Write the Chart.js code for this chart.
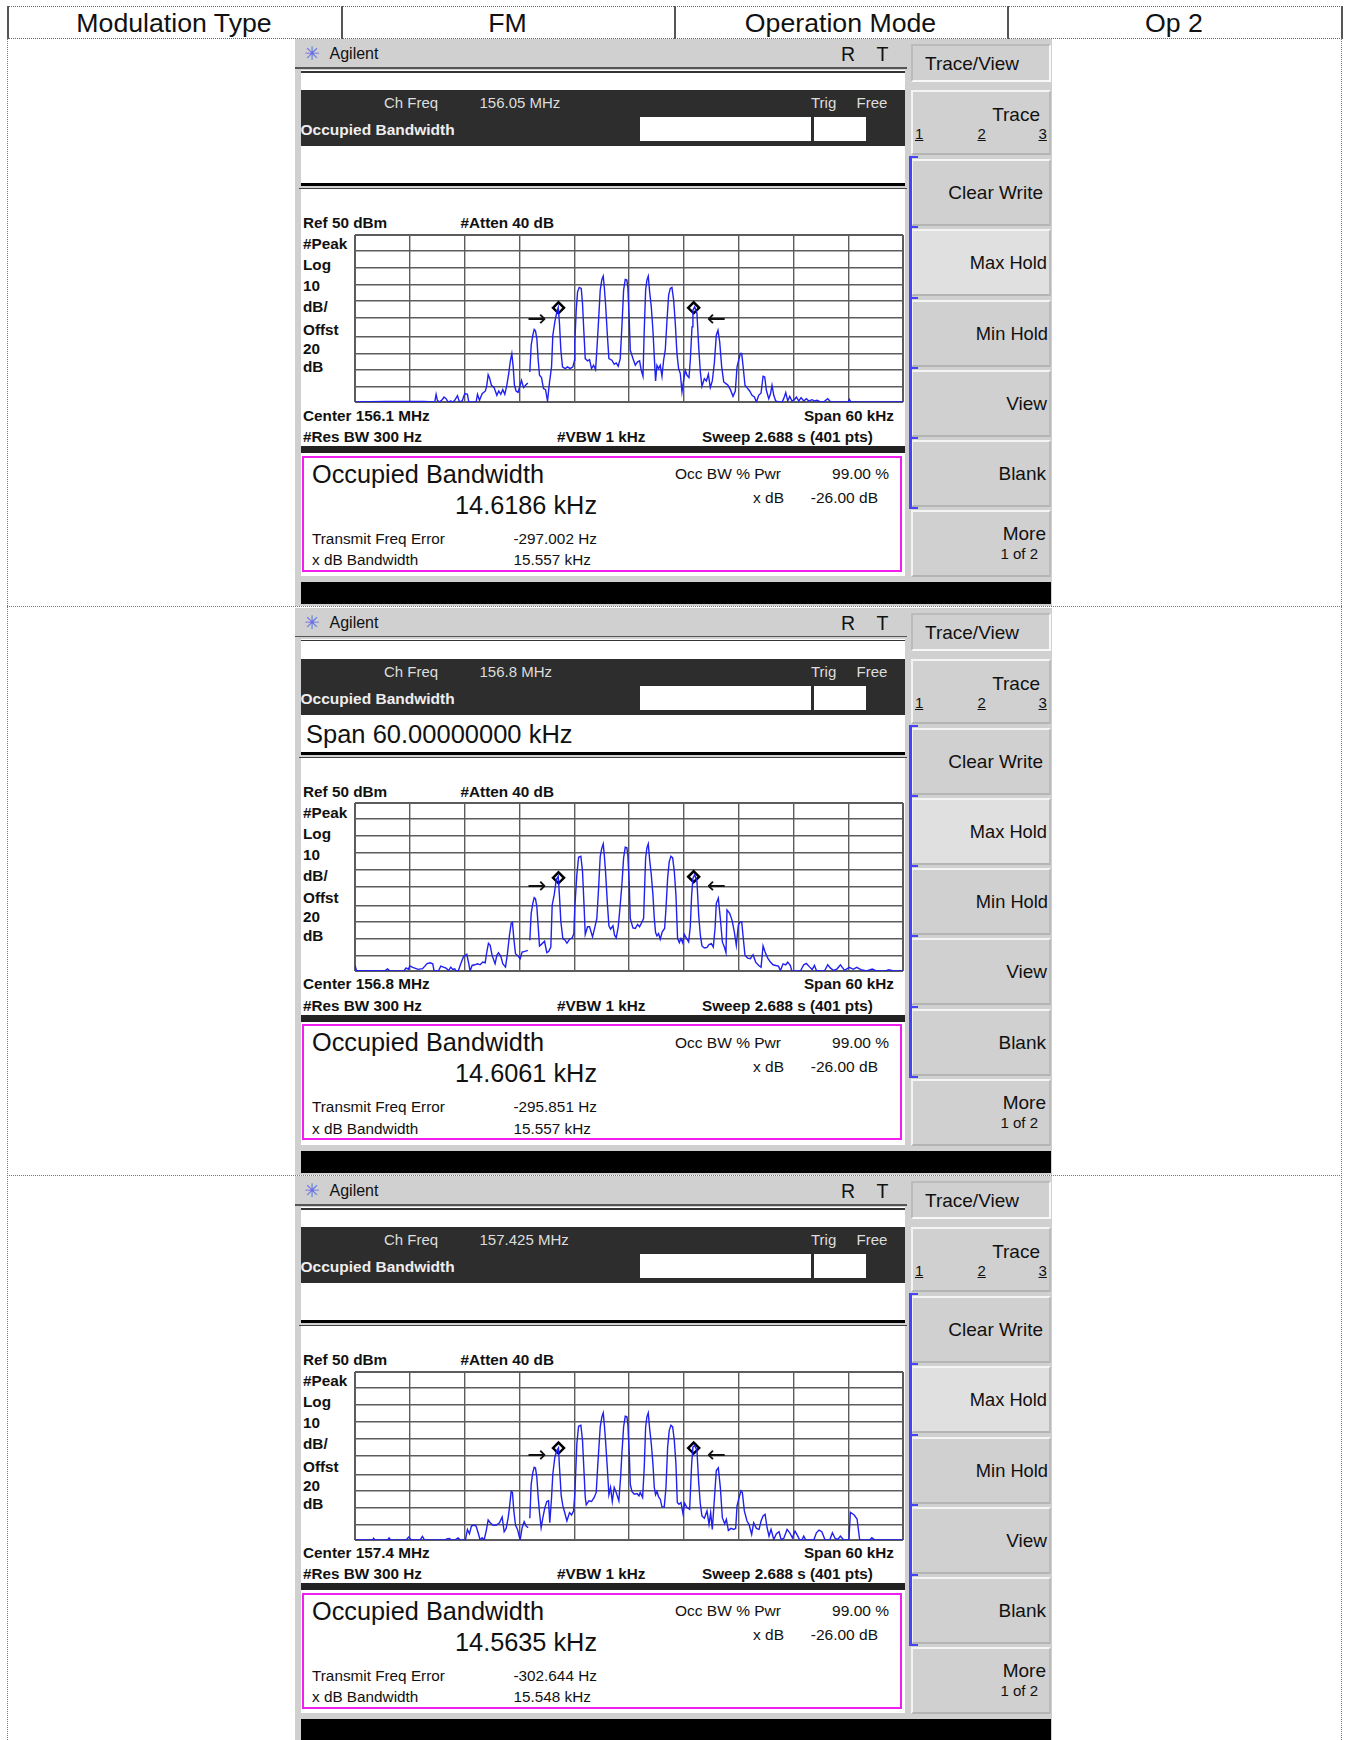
<!DOCTYPE html>
<html>
<head>
<meta charset="utf-8">
<title>Occupied Bandwidth</title>
<script src="https://cdn.jsdelivr.net/npm/chart.js@4/dist/chart.umd.min.js"></script>
<style>
    html, body { margin: 0; padding: 0; background: #fff; }
    body { position: relative; width: 1348px; height: 1740px; overflow: hidden; font-family: "Liberation Sans", Arial, sans-serif; color: #111; }
    .box { position: absolute; }
    .t { position: absolute; white-space: nowrap; height: 30px; line-height: 30px; }
    .b { font-weight: bold; }
    .key { position: absolute; left: 911px; width: 136px; background: #d0d0d0; border: 2px solid; border-color: #f4f4f4 #bbb #b4b4b4 #f4f4f4; }
    canvas { position: absolute; }
</style>
</head>
<body>
<script>
// Header row
const headerLabels = ['Modulation Type', 'FM', 'Operation Mode', 'Op 2'];

// Readouts of the three screens
const chFreqLabels = ['156.05 MHz', '156.8 MHz', '157.425 MHz'];
const centerLabels = ['Center 156.1 MHz', 'Center 156.8 MHz', 'Center 157.4 MHz'];
const activeLabels = ['', 'Span 60.00000000 kHz', ''];
const occBwLabels = ['14.6186 kHz', '14.6061 kHz', '14.5635 kHz'];
const freqErrorLabels = ['-297.002 Hz', '-295.851 Hz', '-302.644 Hz'];
const xdbLabels = ['15.557 kHz', '15.557 kHz', '15.548 kHz'];
const softKeys = ['Clear Write', 'Max Hold', 'Min Hold', 'View', 'Blank'];

// Axis: span 60 kHz around center, ref 50 dBm, 10 dB/div
const xTicksKhz = [-30, -24, -18, -12, -6, 0, 6, 12, 18, 24, 30];
const yGridDb = [50, 40.4, 30.4, 20.4, 10.4, 0.4, -11, -21, -31, -41, -50];

// Traces, offset from center in kHz and level in dBm
const khz1 = [-30, -26.6, -25.4, -22.5, -21.27, -21.12, -20.98, -20.76, -20.46, -20.25, -20.03, -19.81, -19.52, -19.30, -19.08, -18.78, -18.57, -18.27, -17.98, -17.69, -17.54, -17.03, -16.74, -16.59, -16.37, -16.08, -15.72, -15.57, -15.42, -15.28, -15.06, -14.77, -14.47, -14.26, -14.04, -13.82, -13.60, -13.38, -13.17, -12.98, -12.83, -12.68, -12.54, -12.36, -12.14, -11.92, -11.77, -11.55, -11.33, -11.08, -11.0, -10.86, -10.71, -10.53, -10.38, -10.24, -10.09, -9.94, -9.80, -9.58, -9.36, -9.14, -8.92, -8.70, -8.48, -8.34, -8.12, -7.90, -7.75, -7.61, -7.46, -7.28, -6.99, -6.73, -6.44, -6.15, -5.96, -5.93, -5.78, -5.63, -5.45, -5.23, -5.09, -4.94, -4.79, -4.54, -4.32, -4.10, -3.88, -3.66, -3.52, -3.33, -3.15, -2.97, -2.82, -2.71, -2.57, -2.38, -2.20, -1.87, -1.62, -1.40, -1.18, -0.96, -0.78, -0.59, -0.41, -0.23, -0.12, 0.03, 0.14, 0.43, 0.69, 0.94, 1.16, 1.34, 1.53, 1.67, 1.82, 1.96, 2.11, 2.26, 2.44, 2.62, 2.77, 2.91, 3.06, 3.24, 3.42, 3.61, 3.79, 3.97, 4.16, 4.34, 4.52, 4.70, 4.89, 5.07, 5.25, 5.43, 5.62, 5.80, 5.98, 6.16, 6.35, 6.57, 6.71, 6.90, 7.00, 7.19, 7.44, 7.63, 7.81, 7.99, 8.25, 8.47, 8.69, 8.90, 9.12, 9.34, 9.56, 9.74, 9.93, 10.15, 10.37, 10.62, 10.84, 11.10, 11.39, 11.64, 11.83, 12.01, 12.19, 12.34, 12.48, 12.70, 12.92, 13.21, 13.47, 13.73, 13.95, 14.20, 14.46, 14.68, 14.86, 15.04, 15.30, 15.48, 15.66, 15.85, 16.06, 16.39, 16.76, 16.94, 17.16, 17.38, 17.60, 17.85, 18.11, 18.33, 18.59, 18.84, 19.13, 19.42, 19.68, 20.05, 20.30, 20.59, 20.96, 21.40, 21.76, 22.06, 22.49, 23.15, 24.0, 24.12, 24.3, 30];
const db1 = [-50, -49.6, -49.7, -49.6, -50, -45.4, -49, -50, -48.6, -47, -48, -50, -49.4, -50, -49, -46.2, -50, -49.4, -45, -45.4, -50, -50, -50, -45.4, -49, -45, -43.4, -40, -33.6, -35.4, -40, -41.4, -46, -43.4, -45.4, -42.6, -45.4, -40, -33, -25, -21, -29, -40, -43.4, -44.2, -40, -37, -41.4, -40, -38.6, null, -32, -16, -10, -6.6, -7.4, -12, -25, -34, -35.4, -42, -42.6, -49.4, -38, -29, -10, -2, 4, 6.6, -3, -19, -29, -30, -29, -30, -29, -25, -14, 5, 16, 18.6, 18, 9, -8, -24, -25.4, -24.6, -30, -28, -30.6, -19, -1, 17, 23.4, 25.4, 19, 9, -9, -24, -25, -27.4, -26.6, -28.6, -24, -5, 17, 23.4, 23, 18, -1, -19, -24, -28, -26, -25.4, -31, -34.6, -7, 17, 23, 25.4, 16, 7, -7, -23, -37.4, -28, -30, -28, -34.6, -25, -19, -1, 14, 18, 18.6, 11, -3, -21, -30, -33, -44, -37, -31, -34, -35.4, -25, -5, 5, 7, 3, -17, -32, -40.6, -36, -37.4, -33.4, -41.4, -37.4, -27, -10, -7, -14, -29, -38, -39, -40, -42.6, -46.6, -43.4, -29, -25, -21, -21, -28, -40, -41.4, -43.4, -46, -47, -50, -46, -44.6, -34.6, -35, -43, -48, -45.4, -40, -46, -49.4, -50, -50, -48, -44.4, -49.4, -46.6, -49.4, -48.6, -47, -49.4, -47.4, -49.4, -48, -49.4, -48.6, -49.4, -49, -50, -49.6, -48, -49.8, -50, -50, -50, -48.4, -50, -50];

const khz2 = [-30, -29.84, -26.76, -26.43, -26.19, -24.65, -24.4, -24.16, -24, -23.68, -23.1, -22.6, -22.1, -21.78, -21.49, -21.34, -20.87, -20.61, -20.32, -20.03, -19.74, -19.52, -19.30, -19.08, -18.93, -18.67, -18.42, -18.13, -17.76, -17.54, -17.40, -17.18, -16.89, -16.59, -16.30, -16.01, -15.75, -15.57, -15.39, -15.20, -14.99, -14.66, -14.47, -14.29, -14.04, -13.82, -13.52, -13.31, -13.09, -12.90, -12.76, -12.61, -12.43, -12.21, -11.92, -11.70, -11.41, -11.08, -11.0, -10.86, -10.71, -10.53, -10.38, -10.24, -10.09, -9.94, -9.80, -9.51, -9.25, -9.00, -8.78, -8.56, -8.41, -8.19, -7.97, -7.75, -7.61, -7.46, -7.24, -6.99, -6.80, -6.51, -6.22, -6.04, -5.93, -5.71, -5.52, -5.27, -5.09, -4.94, -4.79, -4.54, -4.32, -3.99, -3.73, -3.52, -3.33, -3.15, -2.97, -2.82, -2.71, -2.57, -2.38, -2.20, -2.02, -1.76, -1.58, -1.40, -1.18, -0.96, -0.78, -0.59, -0.41, -0.23, -0.12, 0.03, 0.14, 0.43, 0.69, 0.94, 1.16, 1.34, 1.60, 1.67, 1.82, 1.96, 2.11, 2.26, 2.44, 2.62, 2.77, 2.91, 3.06, 3.24, 3.42, 3.64, 3.90, 4.05, 4.23, 4.41, 4.59, 4.78, 4.96, 5.14, 5.32, 5.51, 5.69, 5.87, 6.06, 6.27, 6.53, 6.71, 6.86, 7.00, 7.19, 7.44, 7.63, 7.81, 7.99, 8.25, 8.54, 8.76, 9.01, 9.23, 9.42, 9.56, 9.78, 10.00, 10.22, 10.44, 10.62, 10.73, 11.02, 11.28, 11.53, 11.75, 11.97, 12.12, 12.34, 12.48, 12.70, 13.00, 13.29, 13.58, 13.87, 14.20, 14.46, 14.68, 14.90, 15.19, 15.48, 15.77, 16.06, 16.36, 16.58, 16.87, 17.16, 17.38, 17.67, 17.82, 18.77, 19.13, 19.42, 19.79, 20.05, 20.30, 20.52, 20.96, 21.40, 21.76, 22.06, 22.42, 22.79, 23.15, 23.6, 24.12, 24.56, 24.93, 25.38, 26.03, 26.63, 27.08, 28.05, 28.46, 28.98, 30];
const db2 = [-46.6, -49.6, -50, -48.8, -50, -50, -48.2, -49, -47, -47.8, -49, -48.6, -45.6, -45.1, -45.7, -50, -50, -47.1, -47.7, -48.3, -49.7, -47.7, -49.1, -48.7, -50, -49.7, -45.7, -41.7, -40.1, -45.7, -50, -46.7, -46.3, -45.7, -46.3, -44.7, -45.1, -38.7, -33.5, -34.7, -40.7, -45.7, -40.7, -39.1, -41.1, -45.7, -47.7, -39.7, -28.7, -21.7, -21.1, -30.7, -39.7, -40.7, -42.7, -38.7, -38.3, -37.7, null, -31.7, -15.7, -9.7, -6.3, -7.1, -11.7, -23.7, -35.1, -33.7, -32.3, -39.1, -38.3, -35.7, -10.7, -4.7, 4.3, 6.3, -5.7, -20.7, -30.7, -31.7, -33.5, -31.1, -30.3, -27.7, -11.7, 7.3, 17.7, 18.3, 9.3, -8.7, -28.3, -23.7, -23.7, -29.7, -23.7, -18.7, -0.7, 18.3, 23.3, 25.7, 19.3, 9.3, -8.7, -23.1, -25.1, -23.1, -28.7, -30.3, -23.7, -10.7, 1.3, 17.3, 23.7, 23.3, 18.3, 1.3, -18.7, -24.3, -24.7, -22.3, -23.7, -21.7, -18.7, -6.7, 17.3, 23.3, 25.7, 16.3, 7.3, -4.7, -18.7, -27.1, -29.1, -27.7, -31.1, -26.7, -24.7, -12.7, 5.3, 15.3, 18.3, 17.3, 9.3, -4.7, -30.7, -33.1, -30.7, -33.1, -28.3, -30.3, -32.7, -23.7, -4.7, 5.3, 7.3, 3.3, -16.7, -28.7, -35.1, -36.3, -35.9, -34.3, -33.7, -35.7, -24.7, -9.7, -6.7, -18.7, -32.7, -35.7, -39.1, -13.7, -15.7, -19.7, -26.7, -34.7, -22.7, -21.1, -20.7, -28.7, -40.7, -42.3, -42.7, -40.3, -44.7, -46.7, -47.7, -35.1, -38.7, -42.3, -44.7, -46.3, -46.7, -47.1, -49.7, -45.7, -46.3, -44.7, -46.7, -50, -50, -46.3, -45.5, -47.7, -49.1, -46.7, -49.7, -50, -50, -46.3, -48.3, -49.7, -48.7, -46.3, -49.6, -47.8, -49, -47.8, -49.2, -50, -48.8, -50, -50, -49.2, -50, -50];

const khz3 = [-30, -28.05, -27.97, -27.8, -26.43, -26.27, -26.1, -24.4, -24.12, -23.84, -22.87, -22.62, -22.38, -21.78, -20.17, -19.95, -19.66, -19.44, -19.08, -18.71, -18.49, -17.91, -17.69, -17.47, -17.25, -16.96, -16.74, -16.52, -16.30, -16.08, -15.86, -15.64, -15.42, -15.20, -14.91, -14.55, -14.18, -13.89, -13.67, -13.45, -13.23, -13.09, -12.90, -12.76, -12.61, -12.43, -12.21, -11.92, -11.70, -11.48, -11.26, -11.04, -10.95, -10.86, -10.71, -10.53, -10.38, -10.24, -10.09, -9.94, -9.80, -9.62, -9.43, -9.21, -9.00, -8.81, -8.67, -8.48, -8.34, -8.12, -7.90, -7.72, -7.61, -7.42, -7.24, -6.99, -6.80, -6.51, -6.29, -6.07, -5.93, -5.85, -5.71, -5.52, -5.27, -5.09, -4.94, -4.79, -4.68, -4.39, -4.10, -3.81, -3.59, -3.41, -3.15, -2.97, -2.82, -2.71, -2.57, -2.38, -2.20, -2.02, -1.83, -1.62, -1.40, -1.11, -0.92, -0.78, -0.59, -0.41, -0.23, -0.12, 0.03, 0.14, 0.32, 0.57, 0.87, 1.09, 1.23, 1.49, 1.67, 1.82, 1.96, 2.11, 2.26, 2.44, 2.62, 2.77, 2.91, 3.06, 3.24, 3.42, 3.61, 3.86, 4.05, 4.23, 4.41, 4.59, 4.78, 4.96, 5.14, 5.29, 5.47, 5.69, 5.91, 6.09, 6.35, 6.64, 6.86, 7.00, 7.19, 7.44, 7.63, 7.81, 7.99, 8.25, 8.54, 8.76, 8.94, 9.12, 9.31, 9.56, 9.78, 10.00, 10.22, 10.48, 10.66, 10.88, 11.17, 11.46, 11.68, 11.83, 12.05, 12.27, 12.41, 12.63, 12.92, 13.14, 13.43, 13.65, 13.95, 14.24, 14.46, 14.68, 14.90, 15.12, 15.33, 15.55, 15.85, 16.14, 16.43, 16.65, 16.94, 17.31, 17.60, 17.89, 18.18, 18.48, 18.69, 18.95, 19.13, 19.35, 20.23, 20.52, 20.81, 21.11, 21.47, 21.98, 22.27, 22.57, 22.86, 23.15, 23.51, 24.08, 24.24, 24.65, 24.97, 25.26, 26.35, 26.59, 26.92, 30];
const db3 = [-50, -50, -49, -50, -50, -48.8, -50, -50, -48.2, -50, -50, -47.8, -50, -50, -50, -49.3, -49.1, -50, -50, -48.7, -50, -50, -43.7, -46.3, -41.7, -41.1, -41.7, -45.7, -50, -48.7, -50, -44.7, -38.1, -39.7, -41.1, -41.3, -39.7, -36.3, -45.1, -43.1, -36.7, -30.7, -21.1, -21.7, -32.7, -41.1, -43.7, -50, -42.7, -39.1, -41.7, -42.7, null, -37.1, -16.7, -9.7, -6.7, -7.1, -12.7, -24.7, -33.7, -42.7, -36.7, -30.7, -27.1, -26.7, -39.7, -24.7, -10.7, -0.7, 3.3, 4.9, -6.7, -23.7, -29.7, -34.7, -38.7, -33.7, -35.1, -32.7, -22.7, -11.7, 7.3, 17.7, 18.3, 9.3, -7.7, -24.7, -29.1, -26.7, -27.1, -24.7, -21.7, -4.7, 17.3, 23.3, 25.7, 19.3, 9.3, -6.7, -23.1, -18.7, -27.1, -18.7, -21.7, -26.7, -12.7, 1.3, 17.3, 23.7, 23.3, 18.3, 1.3, -16.7, -21.1, -22.7, -22.3, -23.7, -21.7, -24.7, -6.7, 17.3, 23.3, 25.7, 16.3, 7.3, -4.7, -18.7, -23.1, -21.1, -24.3, -25.7, -30.3, -30.3, -18.7, 5.3, 15.3, 18.3, 17.3, 9.3, -4.7, -27.7, -28.7, -27.7, -34.3, -28.1, -30.7, -31.7, -4.7, 5.3, 6.3, 3.3, -15.7, -28.7, -35.7, -37.1, -32.7, -40.7, -33.7, -43.7, -28.7, -8.7, -7.1, -18.7, -36.7, -40.3, -37.7, -44.3, -43.1, -43.7, -43.1, -29.7, -24.7, -20.7, -21.7, -32.7, -38.7, -40.7, -46.7, -39.7, -43.1, -43.7, -38.7, -35.7, -34.7, -42.7, -47.7, -43.7, -49.7, -46.3, -45.1, -49.7, -49.1, -43.7, -45.7, -48.7, -44.7, -47.7, -50, -49.7, -47.7, -50, -50, -45.7, -44.1, -45.1, -50, -50, -45.7, -49.1, -49.7, -47.7, -50, -50, -33.5, -35.1, -37.5, -50, -50, -48.6, -50, -50];

// Occupied bandwidth markers and x dB arrows
const markerKhz = [-7.72, 7.08];
const markerDb = [[6.4, 6.4], [5.5, 6.1], [4.7, 4.7]];
const arrowKhz = [-10.09, 9.56];
const arrowDb = [-1, -0.2, 0.1];

const traces = [[khz1, db1], [khz2, db2], [khz3, db3]];
const panelTops = [0, 568.5, 1137];
const plotTops = [227, 795, 1364];
const plotHeights = [183, 184, 184];

function box(parent, x, y, w, h, color) {
    const el = document.createElement('div');
    el.className = 'box';
    el.style.cssText = `left:${x}px;top:${y}px;width:${w}px;height:${h}px;background:${color}`;
    parent.appendChild(el);
    return el;
}

// x is the left edge, or the right edge if opts.right is set; cy is the vertical center
function text(parent, str, x, cy, size, opts = {}) {
    const el = document.createElement('div');
    el.className = 't' + (opts.bold ? ' b' : '');
    el.textContent = str;
    el.style.top = (cy - 15) + 'px';
    el.style.fontSize = size + 'px';
    if (opts.right) el.style.right = (1348 - x) + 'px';
    else el.style.left = x + 'px';
    if (opts.color) el.style.color = opts.color;
    if (opts.underline) el.style.textDecoration = 'underline';
    if (opts.font) el.style.fontFamily = opts.font;
    parent.appendChild(el);
    return el;
}

function drawHeader() {
    const edges = [7, 341, 674, 1007, 1341];
    headerLabels.forEach((label, i) => {
        const el = text(document.body, label, edges[i], 23, 26.7);
        el.style.width = (edges[i + 1] - edges[i]) + 'px';
        el.style.textAlign = 'center';
    });
    edges.forEach(x => box(document.body, x, 6, 1.5, 33, '#555'));
    const top = box(document.body, 7, 6, 1335, 0, 'transparent');
    top.style.borderTop = '1px dotted #666';
    const bottom = box(document.body, 7, 38, 1335, 0, 'transparent');
    bottom.style.borderTop = '1px dotted #666';
    [7, 1341].forEach(x => {
        const line = box(document.body, x, 38, 0, 1702, 'transparent');
        line.style.borderLeft = '1px dotted #777';
    });
    [606, 1175].forEach(y => {
        const line = box(document.body, 7, y, 1335, 0, 'transparent');
        line.style.borderTop = '1px dotted #777';
    });
}

function drawPanel(i) {
    const p = document.createElement('div');
    p.className = 'box';
    p.style.cssText = `left:0;top:${panelTops[i]}px;width:1348px;height:606px`;
    document.body.appendChild(p);

    // screen frame
    box(p, 295, 39, 757, 567, '#d0d0d0');
    box(p, 295, 67, 612, 1.5, '#555');
    box(p, 301, 70, 604, 376, '#fff');
    box(p, 301, 71, 604, 1.5, '#333');
    box(p, 301, 90, 604, 56, '#2d2d2d');
    box(p, 640, 117, 171, 24, '#fff');
    box(p, 814, 117, 52, 24, '#fff');
    box(p, 301, 183, 604, 3, '#000');
    box(p, 299, 186, 608, 2.5, '#d0d0d0');
    box(p, 299, 188, 608, 1.2, '#444');
    box(p, 301, 446, 604, 7, '#222');
    box(p, 301, 453, 604, 123, '#fff');
    const frame = box(p, 302, 455.5, 596, 112, '#fff');
    frame.style.border = '2.5px solid #f01ff0';
    box(p, 301, 582, 750, 22, '#000');

    // title bar
    text(p, '✳', 304, 53, 19, { color: '#6a6ae8', font: '"DejaVu Sans"' });
    text(p, 'Agilent', 329.5, 54, 16);
    text(p, 'R', 841, 54, 19.5);
    text(p, 'T', 876.5, 54, 19.5);

    // measurement band
    text(p, 'Ch Freq', 384, 103, 15, { color: '#ddd' });
    text(p, chFreqLabels[i], 479.5, 103, 15, { color: '#ddd' });
    text(p, 'Trig', 811, 103, 15, { color: '#ddd' });
    text(p, 'Free', 856.5, 103, 15, { color: '#ddd' });
    text(p, 'Occupied Bandwidth', 300.5, 130, 15.5, { color: '#eee', bold: true });
    if (activeLabels[i]) text(p, activeLabels[i], 306, 165, 25.5);

    // plot annotation
    text(p, 'Ref 50 dBm', 303, 223, 15.3, { bold: true });
    text(p, '#Atten 40 dB', 460.5, 223, 15.3, { bold: true });
    [['#Peak', 244], ['Log', 265], ['10', 286], ['dB/', 307], ['Offst', 329.5], ['20', 348.5], ['dB', 367]].forEach(([s, y]) => {
        text(p, s, 303, y, 15.3, { bold: true });
    });
    text(p, centerLabels[i], 303, 415.5, 15.3, { bold: true });
    text(p, 'Span 60 kHz', 894, 415.5, 15.3, { bold: true, right: true });
    text(p, '#Res BW 300 Hz', 303, 437, 15.3, { bold: true });
    text(p, '#VBW 1 kHz', 557, 437, 15.3, { bold: true });
    text(p, 'Sweep 2.688 s (401 pts)', 702, 437, 15.3, { bold: true });

    // results box
    text(p, 'Occupied Bandwidth', 312, 473.5, 25.3);
    text(p, occBwLabels[i], 455, 504.5, 25.3);
    text(p, 'Occ BW % Pwr', 675, 474, 15.5);
    text(p, '99.00 %', 889, 474, 15.5, { right: true });
    text(p, 'x dB', 784, 498, 15.5, { right: true });
    text(p, '-26.00 dB', 878, 498, 15.5, { right: true });
    text(p, 'Transmit Freq Error', 312, 538.5, 15.3);
    text(p, freqErrorLabels[i], 513.5, 538.5, 15.3);
    text(p, 'x dB Bandwidth', 312, 560, 15.3);
    text(p, xdbLabels[i], 513.5, 560, 15.3);

    // soft keys
    const viewKey = box(p, 911, 44, 136, 34, '#d0d0d0');
    viewKey.style.border = '2px solid';
    viewKey.style.borderColor = '#bbb #f8f8f8 #f8f8f8 #bbb';
    const traceKey = box(p, 911, 90, 136, 61, '#d0d0d0');
    traceKey.className = 'key';
    text(p, 'Trace/View', 925, 64, 19);
    text(p, 'Trace', 1040, 115, 19, { right: true });
    [['1', 915], ['2', 977.5], ['3', 1038.5]].forEach(([s, x]) => text(p, s, x, 134, 15, { underline: true }));

    const keyRights = [1043, 1047, 1048, 1047, 1046];
    const keySizes = [19, 18.3, 18.3, 19, 19];
    softKeys.forEach((label, k) => {
        const top = 159 + 70.3 * k;
        const key = box(p, 911, top, 136, 63, k === 1 ? '#e0e0e0' : '#d0d0d0');
        key.className = 'key';
        text(p, label, keyRights[k], top + 34, keySizes[k], { right: true });
        box(p, 908.5, top - 3, 3, 70.3, '#4545f5');
        box(p, 908.5, top - 3, 9, 2, '#4545f5');
    });
    box(p, 908.5, 507, 9, 2, '#4545f5');
    const moreKey = box(p, 911, 510, 136, 63, '#d0d0d0');
    moreKey.className = 'key';
    text(p, 'More', 1046, 534, 19, { right: true });
    text(p, '1 of 2', 1038, 554, 15, { right: true });
}

// Arrows marking the x dB points, placed through the chart scales
const arrowPlugin = {
    id: 'xdbArrows',
    afterDatasetsDraw(chart, args, opts) {
        const ctx = chart.ctx;
        ctx.save();
        ctx.fillStyle = '#111';
        ctx.font = '23px "DejaVu Sans"';
        ctx.textAlign = 'center';
        ctx.textBaseline = 'middle';
        ['→', '←'].forEach((s, k) => {
            ctx.fillText(s, chart.scales.x.getPixelForValue(arrowKhz[k]), chart.scales.y.getPixelForValue(opts.db));
        });
        ctx.restore();
    }
};

function drawTrace(i) {
    const canvas = document.createElement('canvas');
    canvas.width = 564;
    canvas.height = plotHeights[i];
    canvas.style.left = '347px';
    canvas.style.top = plotTops[i] + 'px';
    document.body.appendChild(canvas);

    const [khz, db] = traces[i];
    new Chart(canvas.getContext('2d'), {
        type: 'scatter',
        data: {
            datasets: [{
                data: khz.map((x, k) => ({ x: x, y: db[k] })),
                showLine: true,
                spanGaps: false,
                borderColor: '#2020f0',
                borderWidth: 1.4,
                pointRadius: 0
            }, {
                data: markerKhz.map((x, k) => ({ x: x, y: markerDb[i][k] })),
                pointStyle: 'rectRot',
                pointRadius: 5.5,
                pointBackgroundColor: 'rgba(0,0,0,0)',
                pointBorderColor: '#000',
                pointBorderWidth: 2.5
            }]
        },
        options: {
            responsive: false,
            animation: false,
            layout: { padding: 3 },
            plugins: { legend: { display: false }, tooltip: { enabled: false }, xdbArrows: { db: arrowDb[i] } },
            scales: {
                x: {
                    type: 'linear',
                    min: -30,
                    max: 30,
                    afterBuildTicks: axis => { axis.ticks = xTicksKhz.map(v => ({ value: v })); },
                    ticks: { display: false },
                    border: { display: false },
                    grid: {
                        drawTicks: false,
                        color: '#5c5c5c',
                        lineWidth: c => (c.index === 0 || c.index === 10 ? 2 : 1.4)
                    }
                },
                y: {
                    type: 'linear',
                    min: -50,
                    max: 50,
                    afterBuildTicks: axis => { axis.ticks = yGridDb.map(v => ({ value: v })); },
                    ticks: { display: false },
                    border: { display: false },
                    grid: {
                        drawTicks: false,
                        color: '#5c5c5c',
                        lineWidth: c => (c.index === 0 || c.index === 10 ? 2 : 1.6)
                    }
                }
            }
        },
        plugins: [arrowPlugin]
    });
}

drawHeader();
for (let i = 0; i < 3; i++) {
    drawPanel(i);
    drawTrace(i);
}
</script>
</body>
</html>
